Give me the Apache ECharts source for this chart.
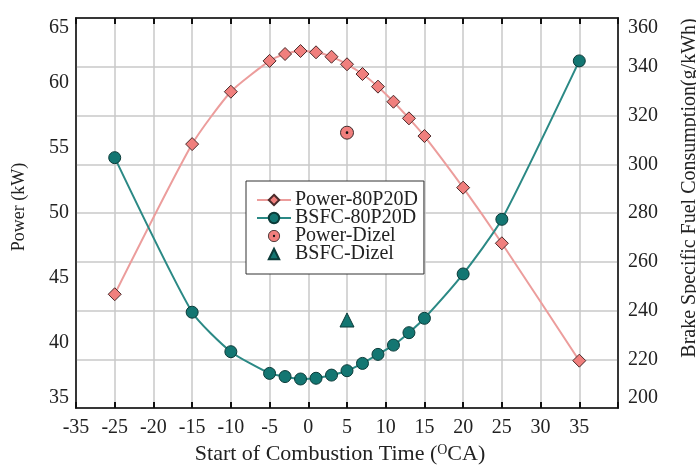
<!DOCTYPE html>
<html>
<head>
<meta charset="utf-8">
<script src="https://cdn.jsdelivr.net/npm/echarts@6/dist/echarts.min.js"></script>
<style>html,body{margin:0;padding:0;background:#fff}#c{width:696px;height:470px}</style>
</head>
<body>
<div id="c"></div>
<script>
// ---- data ----
const xTickLabels = ['-35','-25','-20','-15','-10','-5','0','5','10','15','20','25','30','35',''];
const timing = [-25, -15, -10, -5, -3, -1, 1, 3, 5, 7, 9, 11, 13, 15, 20, 25, 35];
const power80P20D = [43.75, 55.3, 59.33, 61.7, 62.23, 62.46, 62.36, 62.02, 61.44, 60.69, 59.72, 58.56, 57.28, 55.92, 51.95, 47.67, 38.64];
const bsfc80P20D = [302.7, 239.3, 223.1, 214.2, 212.9, 211.9, 212.2, 213.5, 215.3, 218.3, 222.0, 225.8, 230.9, 236.8, 255.0, 277.4, 342.4];
const dizelTiming = [5];
const powerDizel = [56.18];
const bsfcDizel = [236.1];

const FONT = 'Liberation Serif';
const dotSvg = 'image://data:image/svg+xml;utf8,' + encodeURIComponent(
  '<svg xmlns="http://www.w3.org/2000/svg" width="30" height="30" viewBox="0 0 30 30">' +
  '<circle cx="15" cy="15" r="13" fill="#f07f7d" stroke="#3a2a2a" stroke-width="2"/>' +
  '<circle cx="15" cy="15" r="2.6" fill="#111"/></svg>');

const pair = (xs, ys) => xs.map((x, i) => [x, ys[i]]);

const chart = echarts.init(document.getElementById('c'), null, {renderer: 'canvas'});
chart.setOption({
  animation: false,
  backgroundColor: '#fff',
  grid: {left: 76, right: 78, top: 18, bottom: 62, outerBoundsMode: 'none', containLabel: false,
    show: true, borderColor: '#111', borderWidth: 1.5, backgroundColor: 'transparent'},
  legend: {
    orient: 'vertical', left: 246, top: 181,
    padding: [9, 6, 10, 10], itemGap: -2, itemWidth: 34, itemHeight: 13,
    backgroundColor: '#fff', borderColor: '#333', borderWidth: 1,
    textStyle: {fontFamily: FONT, fontSize: 20, lineHeight: 18, color: '#222', padding: [0, 0, 0, -1]},
    data: ['Power-80P20D', 'BSFC-80P20D', {name: 'Power-Dizel', icon: dotSvg}, 'BSFC-Dizel']
  },
  xAxis: [{
    type: 'value', min: -30, max: 40, interval: 5, position: 'bottom',
    name: '{a|Start of Combustion Time (}{s|O}{a|CA)}', nameLocation: 'middle', nameGap: 34,
    nameTextStyle: {padding: [0, 14, 0, 0], rich: {a: {fontFamily: FONT, fontSize: 22, color: '#222'}, s: {fontFamily: FONT, fontSize: 14, color: '#222', verticalAlign: 'top', padding: [0, 0, 9, 0]}}},
    axisLine: {show: true, onZero: false, lineStyle: {color: '#111', width: 1.5}},
    axisTick: {show: true, inside: true, length: 6, lineStyle: {color: '#111', width: 2}},
    splitLine: {show: true, lineStyle: {color: '#c9c9c9', width: 1.5}},
    axisLabel: {fontFamily: FONT, fontSize: 20, color: '#222', margin: 10,
      formatter: (v) => xTickLabels[Math.round((v + 30) / 5)]}
  }, {
    type: 'value', min: -30, max: 40, interval: 5, position: 'top',
    axisLine: {show: true, onZero: false, lineStyle: {color: '#111', width: 1.5}},
    axisTick: {show: true, inside: true, length: 6, lineStyle: {color: '#111', width: 2}},
    splitLine: {show: false}, axisLabel: {show: false}
  }],
  yAxis: [{
    type: 'value', min: 35, max: 65, interval: 5, position: 'left',
    name: 'Power (kW)', nameLocation: 'middle', nameGap: 48,
    nameTextStyle: {fontFamily: FONT, fontSize: 18, color: '#222', padding: [0, 0, 0, 12]},
    axisLine: {show: true, onZero: false, lineStyle: {color: '#111', width: 1.5}},
    axisTick: {show: false},
    splitLine: {show: false},
    axisLabel: {fontFamily: FONT, fontSize: 20, color: '#222', margin: 7, verticalAlignMinLabel: 'bottom', verticalAlignMaxLabel: 'top'}
  }, {
    type: 'value', min: 200, max: 360, interval: 20, position: 'right',
    name: 'Brake Specific Fuel Consumption(g/kWh)', nameLocation: 'middle', nameGap: 62, nameRotate: 90,
    nameTextStyle: {fontFamily: FONT, fontSize: 20, color: '#222', padding: [0, 0, 0, 50]},
    axisLine: {show: true, onZero: false, lineStyle: {color: '#111', width: 1.5}},
    axisTick: {show: false},
    splitLine: {show: true, lineStyle: {color: '#c9c9c9', width: 1.5}},
    axisLabel: {fontFamily: FONT, fontSize: 20, color: '#222', margin: 10, verticalAlignMinLabel: 'bottom', verticalAlignMaxLabel: 'top'}
  }],
  series: [{
    name: 'Power-80P20D', type: 'line', xAxisIndex: 0, yAxisIndex: 0, smooth: 0.2,
    data: pair(timing, power80P20D),
    symbol: 'diamond', symbolSize: 13,
    lineStyle: {color: '#ec9d9c', width: 2},
    itemStyle: {color: '#f07f7d', borderColor: '#4a2a2a', borderWidth: 1},
    z: 3
  }, {
    name: 'BSFC-80P20D', type: 'line', xAxisIndex: 0, yAxisIndex: 1, smooth: 0.2,
    data: pair(timing, bsfc80P20D),
    symbol: 'circle', symbolSize: 12,
    lineStyle: {color: '#2b8985', width: 2},
    itemStyle: {color: '#137672', borderColor: '#0b3b39', borderWidth: 1},
    z: 4
  }, {
    name: 'Power-Dizel', type: 'line', xAxisIndex: 0, yAxisIndex: 0,
    data: pair(dizelTiming, powerDizel),
    symbol: dotSvg, symbolSize: 15, showSymbol: true,
    lineStyle: {opacity: 0, width: 0},
    z: 5
  }, {
    name: 'BSFC-Dizel', type: 'line', xAxisIndex: 0, yAxisIndex: 1,
    data: pair(dizelTiming, bsfcDizel),
    symbol: 'triangle', symbolSize: 14, showSymbol: true,
    lineStyle: {opacity: 0, width: 0},
    itemStyle: {color: '#137672', borderColor: '#0b3b39', borderWidth: 1},
    z: 5
  }]
});
</script>
</body>
</html>
